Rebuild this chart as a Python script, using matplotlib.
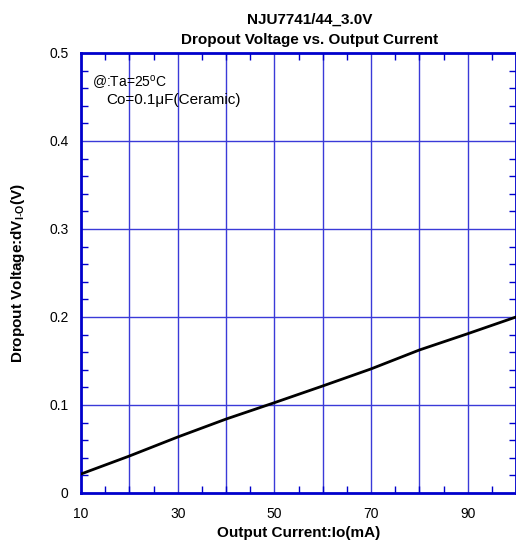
import matplotlib
matplotlib.use("Agg")
import matplotlib.pyplot as plt
from matplotlib.ticker import MultipleLocator, FuncFormatter

plt.rcParams['font.family'] = ['Liberation Sans', 'DejaVu Sans']
plt.rcParams['mathtext.fontset'] = 'custom'
plt.rcParams['mathtext.rm'] = 'Liberation Sans'
plt.rcParams['mathtext.bf'] = 'Liberation Sans:bold'

# Data
current_ma = [10, 20, 30, 40, 50, 60, 70, 80, 90, 100]
dropout_v = [0.0216, 0.042, 0.0636, 0.084, 0.1026, 0.1216, 0.141, 0.1625, 0.181, 0.200]
x_ticks = [10, 30, 50, 70, 90]
y_ticks = [0, 0.1, 0.2, 0.3, 0.4, 0.5]

blue = "#0000cc"
grid_blue = "#3a3ad8"

fig = plt.figure(figsize=(5.16, 5.44), dpi=100)
ax = fig.add_axes([81 / 516, 51 / 544, 435 / 516, 440 / 544])

ax.plot(current_ma, dropout_v, color="black", linewidth=2, zorder=3)

ax.set_xlim(10, 100)
ax.set_ylim(0, 0.5)
ax.set_xticks(x_ticks)
ax.set_yticks(y_ticks)
ax.xaxis.set_minor_locator(MultipleLocator(5))
ax.yaxis.set_minor_locator(MultipleLocator(0.02))
ax.yaxis.set_major_formatter(FuncFormatter(lambda v, p: "0" if v == 0 else f"{v:.1f}"))

# grid lines every 10 mA and every 0.1 V
for gx in range(20, 100, 10):
    ax.axvline(gx, color=grid_blue, linewidth=1, zorder=1)
for gy in [0.1, 0.2, 0.3, 0.4]:
    ax.axhline(gy, color=grid_blue, linewidth=1, zorder=1)

ax.tick_params(which="major", length=0, labelsize=10, pad=10)
ax.tick_params(which="major", axis="y", pad=9)
ax.tick_params(which="minor", direction="in", length=5, width=1, color=blue,
               top=True, right=True)
for s in ax.spines.values():
    s.set_color(blue)
    s.set_linewidth(2)

ax.set_xlabel("Output Current:Io(mA)", fontsize=11, fontweight="bold", labelpad=4)
ax.set_ylabel(r"Dropout Voltage:dV$_{\mathbf{I\text{-}O}}$(V)", fontsize=11,
              fontweight="bold", labelpad=16)

ax.text(0.025, 0.955, "@:Ta=25$^{\\mathrm{o}}$C", transform=ax.transAxes,
        fontsize=10, va="top")
ax.text(0.058, 0.908, "Co=0.1\u03bcF(Ceramic)", transform=ax.transAxes,
        fontsize=11, va="top")

fig.text(310 / 516, 1 - 20 / 544, "NJU7741/44_3.0V", ha="center", va="center",
         fontsize=11, fontweight="bold")
fig.text(310 / 516, 1 - 40 / 544, "Dropout Voltage vs. Output Current", ha="center",
         va="center", fontsize=11, fontweight="bold")

fig.savefig("out.png", dpi=100)
plt.close(fig)
